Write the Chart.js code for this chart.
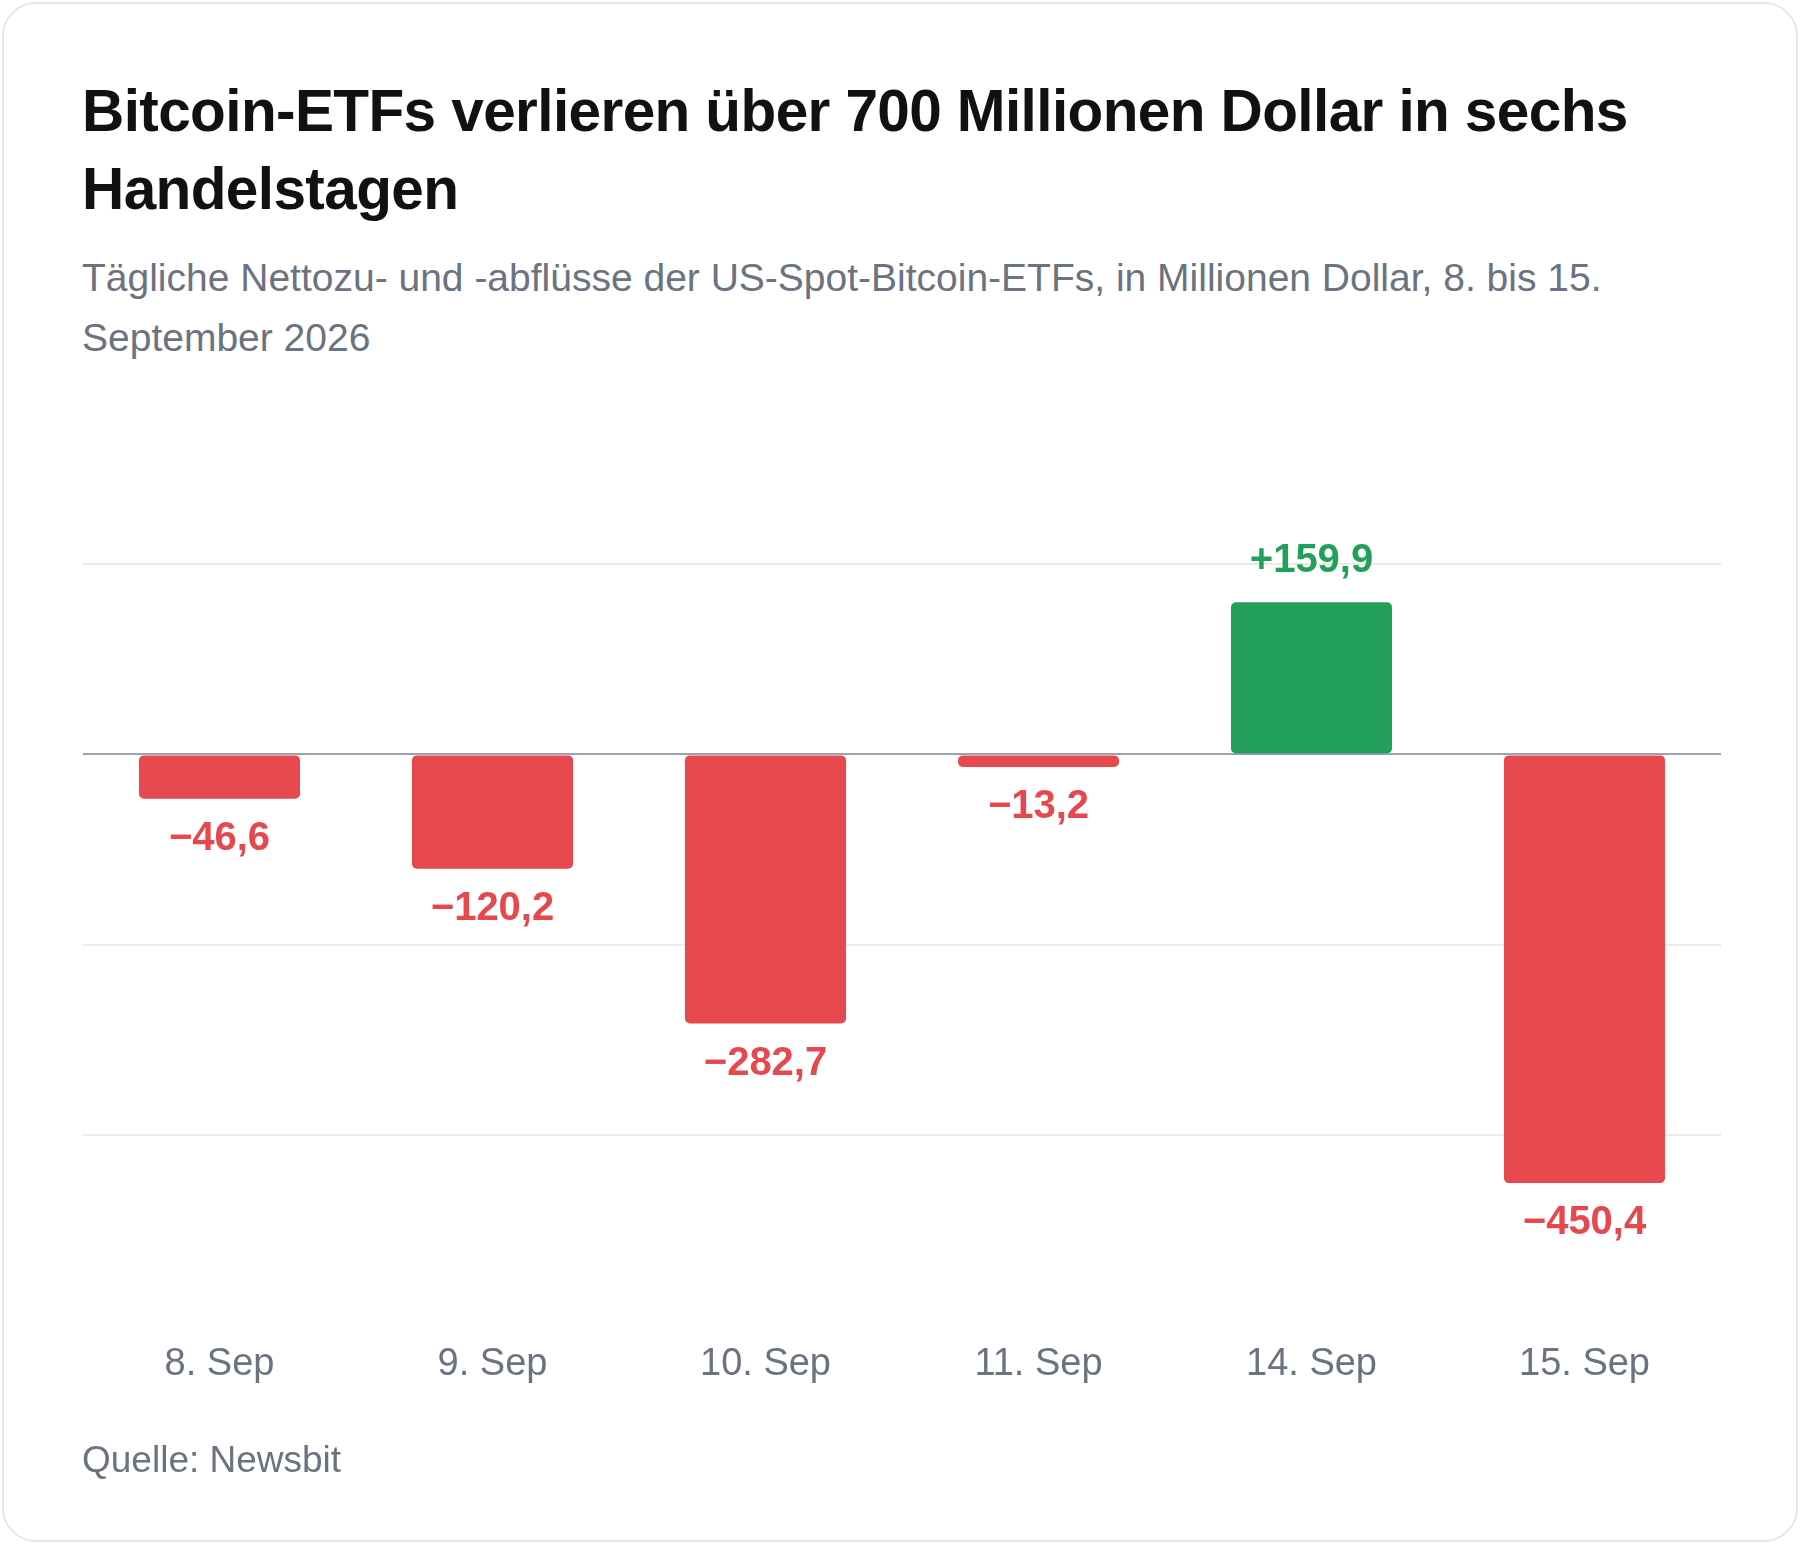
<!DOCTYPE html>
<html>
<head>
<meta charset="utf-8">
<script src="https://cdn.jsdelivr.net/npm/chart.js@4"></script>
<style>
  html, body { margin: 0; padding: 0; background: #fff; width: 1800px; height: 1545px; overflow: hidden; }
  body { font-family: "Liberation Sans", Arial, sans-serif; }
  .card { position: absolute; left: 2px; top: 2px; width: 1792px; height: 1536px; border: 2px solid #e5e7eb; border-radius: 34px; background: #fff; }
  .title { position: absolute; left: 78px; top: 68px; width: 1660px; font-size: 58.5px; line-height: 78px; font-weight: 700; color: #111; letter-spacing: -0.6px; }
  .subtitle { position: absolute; left: 78px; top: 244px; width: 1640px; font-size: 39px; line-height: 60px; color: #6b7280; }
  .chart { position: absolute; left: 79px; top: 540px; width: 1638px; height: 908px; }
  .source { position: absolute; left: 78px; top: 1435px; font-size: 37px; color: #6b7280; }
</style>
</head>
<body>
<div class="card">
  <div class="title">Bitcoin-ETFs verlieren über 700 Millionen Dollar in sechs Handelstagen</div>
  <div class="subtitle">Tägliche Nettozu- und -abflüsse der US-Spot-Bitcoin-ETFs, in Millionen Dollar, 8. bis 15. September 2026</div>
  <div class="chart"><canvas id="c"></canvas></div>
  <div class="source">Quelle: Newsbit</div>
</div>
<script>
const days = ['8. Sep', '9. Sep', '10. Sep', '11. Sep', '14. Sep', '15. Sep'];
const flows = [-46.6, -120.2, -282.7, -13.2, 159.9, -450.4];

const RED = '#e5484d';
const GREEN = '#22a05a';
const fmt = v => (v < 0 ? '\u2212' : '+') + Math.abs(v).toFixed(1).replace('.', ',');

const valueLabels = {
  id: 'valueLabels',
  afterDatasetsDraw(chart) {
    const ctx = chart.ctx;
    const meta = chart.getDatasetMeta(0);
    ctx.save();
    ctx.font = '700 40px "Liberation Sans", Arial, sans-serif';
    ctx.textAlign = 'center';
    ctx.textBaseline = 'middle';
    meta.data.forEach((bar, i) => {
      const v = flows[i];
      ctx.fillStyle = v < 0 ? RED : GREEN;
      const y = v < 0 ? bar.y + 40 : bar.y - 41;
      ctx.fillText(fmt(v), bar.x, y);
    });
    ctx.restore();
  }
};

new Chart(document.getElementById('c'), {
  type: 'bar',
  data: {
    labels: days,
    datasets: [{
      data: flows,
      backgroundColor: flows.map(v => v < 0 ? RED : GREEN),
      borderRadius: 5,
      borderSkipped: false,
      categoryPercentage: 1,
      barPercentage: 0.59,
    }]
  },
  options: {
    responsive: true,
    maintainAspectRatio: false,
    animation: false,
    layout: { padding: { top: 20, left: 0, right: 0, bottom: 0 } },
    plugins: { legend: { display: false }, tooltip: { enabled: false } },
    scales: {
      x: {
        grid: { display: false },
        border: { display: false },
        ticks: { color: '#6b7280', font: { size: 38, family: '"Liberation Sans", Arial, sans-serif' }, padding: 65 }
      },
      y: {
        min: -540, max: 200,
        afterBuildTicks: axis => { axis.ticks = [-400, -200, 0, 200].map(v => ({ value: v })); },
        ticks: { display: false },
        border: { display: false },
        grid: {
          color: c => c.tick && c.tick.value === 0 ? '#9ca3af' : '#ebebeb',
          lineWidth: 2,
          drawTicks: false
        }
      }
    }
  },
  plugins: [valueLabels]
});
</script>
</body>
</html>
